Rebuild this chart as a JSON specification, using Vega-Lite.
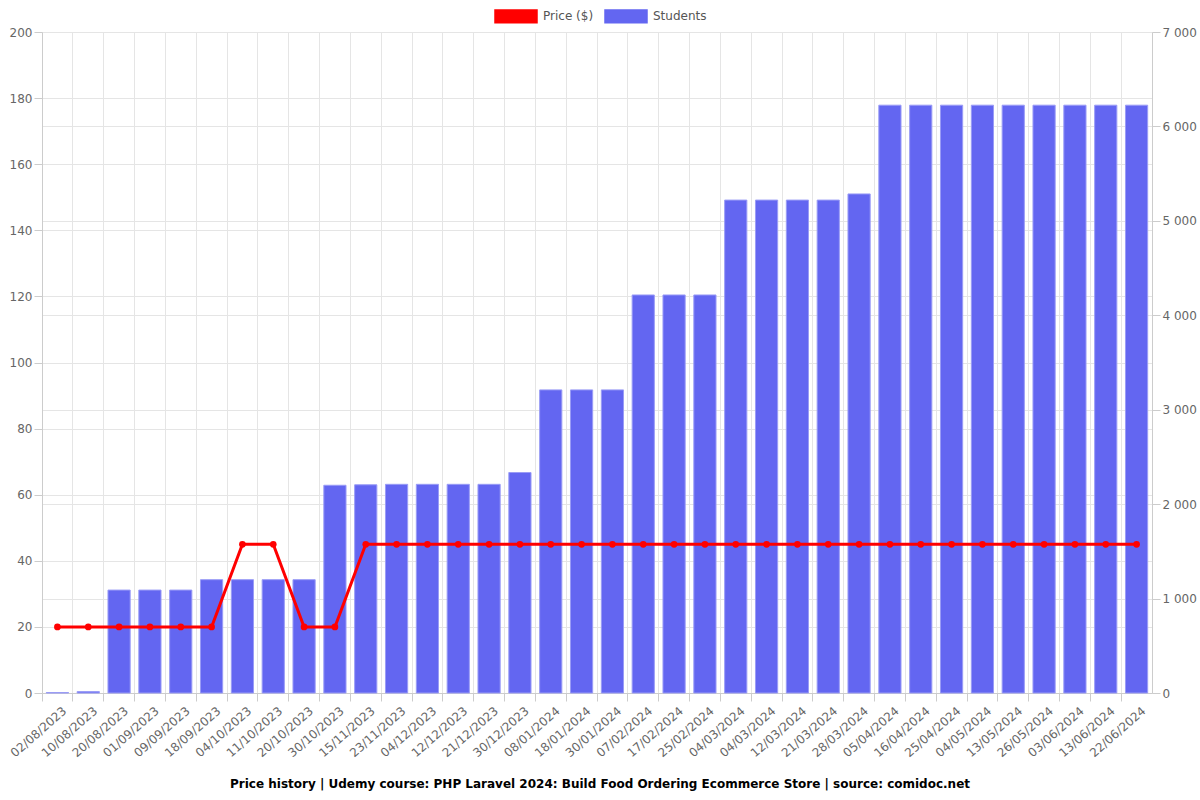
{
  "$schema": "https://vega.github.io/schema/vega-lite/v6.json",
  "width": 1110,
  "height": 661,
  "autosize": "none",
  "padding": {"left": 42, "top": 32, "right": 48, "bottom": 107},
  "background": "white",
  "config": {
    "font": "DejaVu Sans",
    "view": {"stroke": null},
    "axis": {
      "labelFont": "DejaVu Sans",
      "labelFontSize": 12,
      "labelColor": "#666666",
      "gridColor": "#e5e5e5",
      "domainColor": "#cccccc",
      "tickColor": "#cccccc",
      "tickSize": 8,
      "title": null
    }
  },
  "data": {
    "values": [
      {"date": "02/08/2023", "price": 20, "students": 5},
      {"date": "10/08/2023", "price": 20, "students": 15},
      {"date": "20/08/2023", "price": 20, "students": 1090},
      {"date": "01/09/2023", "price": 20, "students": 1090},
      {"date": "09/09/2023", "price": 20, "students": 1090},
      {"date": "18/09/2023", "price": 20, "students": 1200},
      {"date": "04/10/2023", "price": 45, "students": 1200},
      {"date": "11/10/2023", "price": 45, "students": 1200},
      {"date": "20/10/2023", "price": 20, "students": 1200},
      {"date": "30/10/2023", "price": 20, "students": 2200},
      {"date": "15/11/2023", "price": 45, "students": 2205},
      {"date": "23/11/2023", "price": 45, "students": 2210},
      {"date": "04/12/2023", "price": 45, "students": 2210},
      {"date": "12/12/2023", "price": 45, "students": 2210},
      {"date": "21/12/2023", "price": 45, "students": 2210},
      {"date": "30/12/2023", "price": 45, "students": 2335},
      {"date": "08/01/2024", "price": 45, "students": 3210},
      {"date": "18/01/2024", "price": 45, "students": 3210},
      {"date": "30/01/2024", "price": 45, "students": 3210},
      {"date": "07/02/2024", "price": 45, "students": 4215},
      {"date": "17/02/2024", "price": 45, "students": 4215},
      {"date": "25/02/2024", "price": 45, "students": 4215},
      {"date": "04/03/2024", "price": 45, "students": 5220},
      {"date": "04/03/2024 ", "price": 45, "students": 5220},
      {"date": "12/03/2024", "price": 45, "students": 5220},
      {"date": "21/03/2024", "price": 45, "students": 5220},
      {"date": "28/03/2024", "price": 45, "students": 5285},
      {"date": "05/04/2024", "price": 45, "students": 6225},
      {"date": "16/04/2024", "price": 45, "students": 6225},
      {"date": "25/04/2024", "price": 45, "students": 6225},
      {"date": "04/05/2024", "price": 45, "students": 6225},
      {"date": "13/05/2024", "price": 45, "students": 6225},
      {"date": "26/05/2024", "price": 45, "students": 6225},
      {"date": "03/06/2024", "price": 45, "students": 6225},
      {"date": "13/06/2024", "price": 45, "students": 6225},
      {"date": "22/06/2024", "price": 45, "students": 6225}
    ]
  },
  "title": {
    "text": "Price history | Udemy course: PHP Laravel 2024: Build Food Ordering Ecommerce Store | source: comidoc.net",
    "orient": "bottom",
    "anchor": "middle",
    "fontSize": 12,
    "fontWeight": "bold",
    "color": "#000000",
    "font": "DejaVu Sans",
    "offset": 20,
    "dx": 3
  },
  "encoding": {
    "x": {
      "field": "date",
      "type": "ordinal",
      "sort": null,
      "scale": {"paddingInner": 0, "paddingOuter": 0},
      "axis": {
        "bandPosition": 0,
        "grid": true,
        "labelAngle": -41,
        "labelOffset": 4,
        "labelPadding": 4,
        "labelBound": false,
        "labelOverlap": false
      }
    }
  },
  "layer": [
    {
      "mark": {"type": "bar", "width": {"band": 0.72}, "stroke": "#9a9cf6", "strokeWidth": 1},
      "encoding": {
        "y": {
          "field": "students",
          "type": "quantitative",
          "scale": {"domain": [0, 7000]},
          "axis": {
            "orient": "right",
            "values": [0, 1000, 2000, 3000, 4000, 5000, 6000, 7000],
            "labelExpr": "replace(format(datum.value, ','), ',', ' ')",
            "grid": true
          }
        },
        "color": {
          "datum": "Students",
          "scale": {"domain": ["Price ($)", "Students"], "range": ["#ff0000", "#6366f1"]},
          "legend": {
            "orient": "none",
            "legendX": 452,
            "legendY": -38,
            "direction": "horizontal",
            "title": null,
            "symbolType": "M-1,-0.3H1V0.3H-1Z",
            "symbolSize": 1764,
            "labelFontSize": 12,
            "labelColor": "#555555",
            "labelFont": "DejaVu Sans",
            "labelOffset": 5,
            "columnPadding": 8,
            "encode": {
              "symbols": {
                "update": {
                  "fill": {"scale": "color", "field": "value"},
                  "stroke": {"scale": "color", "field": "value"},
                  "strokeWidth": {"value": 0},
                  "opacity": {"value": 1}
                }
              }
            }
          }
        }
      }
    },
    {
      "mark": {"type": "line", "strokeWidth": 3, "point": {"filled": true, "size": 45}},
      "encoding": {
        "y": {
          "field": "price",
          "type": "quantitative",
          "scale": {"domain": [0, 200]},
          "axis": {
            "orient": "left",
            "values": [0, 20, 40, 60, 80, 100, 120, 140, 160, 180, 200],
            "grid": true
          }
        },
        "color": {"datum": "Price ($)"}
      }
    }
  ],
  "resolve": {"scale": {"y": "independent"}}
}
